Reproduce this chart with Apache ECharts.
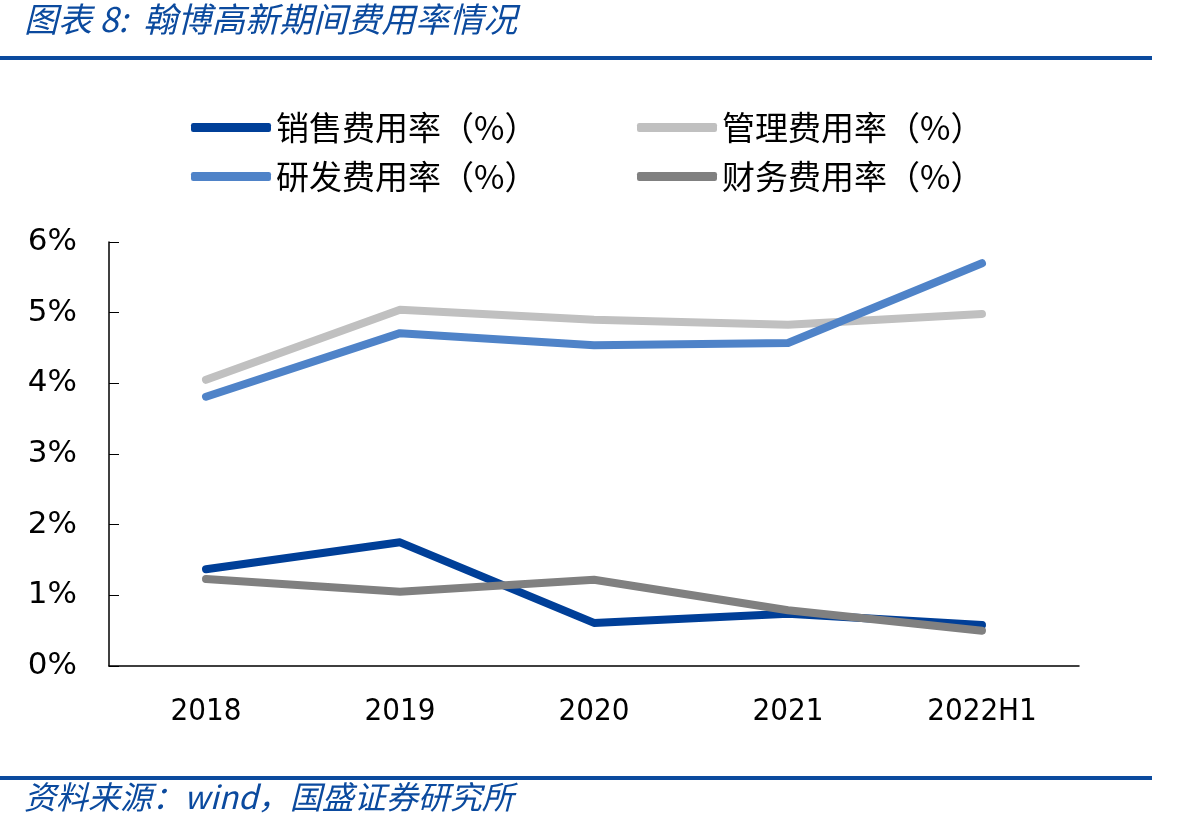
<!DOCTYPE html>
<html>
<head>
<meta charset="utf-8">
<script src="https://cdn.jsdelivr.net/npm/echarts@6/dist/echarts.min.js"></script>
<style>
  html, body { margin: 0; padding: 0; background: #fff; }
  #main { width: 1197px; height: 830px; }
</style>
</head>
<body>
<div id="main"></div>
<script>
var categories = ['2018', '2019', '2020', '2021', '2022H1'];
var salesRate = [1.37, 1.75, 0.61, 0.74, 0.58];
var adminRate = [4.05, 5.04, 4.90, 4.83, 4.98];
var rdRate = [3.81, 4.71, 4.54, 4.57, 5.70];
var financeRate = [1.23, 1.05, 1.22, 0.79, 0.50];
var yTicks = [0, 1, 2, 3, 4, 5, 6];

var names = ['销售费用率（%）', '管理费用率（%）', '研发费用率（%）', '财务费用率（%）'];
var colors = ['#003f98', '#c0c0c0', '#4f83c8', '#808080'];
var blue = '#0b4a9e';

var myChart = echarts.init(document.getElementById('main'));

function lineSeries(name, data, color) {
    return {
        name: name,
        type: 'line',
        data: data,
        symbol: 'none',
        smooth: false,
        lineStyle: { width: 8, color: color, cap: 'round', join: 'round' },
        itemStyle: { color: color }
    };
}

var legendText = { fontSize: 33, color: '#000', fontFamily: 'Noto Sans CJK SC' };

option = {
    backgroundColor: '#fff',
    animation: false,
    graphic: [
        {
            type: 'text', left: 24, top: 2,
            style: { text: '图表 8:  翰博高新期间费用率情况', fill: blue, fontSize: 34,
                     fontStyle: 'italic', fontFamily: 'Noto Sans CJK SC' }
        },
        { type: 'rect', left: 0, top: 56, shape: { width: 1152, height: 4 }, style: { fill: blue } },
        { type: 'rect', left: 0, top: 776, shape: { width: 1152, height: 4 }, style: { fill: blue } },
        {
            type: 'text', left: 24, top: 781,
            style: { text: '资料来源：wind，国盛证券研究所', fill: blue, fontSize: 32,
                     fontStyle: 'italic', fontFamily: 'Noto Sans CJK SC' }
        }
    ],
    legend: [
        {
            data: [names[0], names[2]], orient: 'vertical', left: 186, top: 106,
            icon: 'roundRect', itemWidth: 80, itemHeight: 9, itemGap: 16,
            textStyle: legendText
        },
        {
            data: [names[1], names[3]], orient: 'vertical', left: 632, top: 106,
            icon: 'roundRect', itemWidth: 80, itemHeight: 9, itemGap: 16,
            textStyle: legendText
        }
    ],
    grid: { left: 109, right: 118, top: 242, bottom: 164 },
    xAxis: {
        type: 'category',
        data: categories,
        boundaryGap: true,
        axisLine: { lineStyle: { color: '#000', width: 1.5 } },
        axisTick: { inside: true, length: 10, lineStyle: { color: '#000' } },
        axisLabel: { margin: 30, fontSize: 31, color: '#000', fontFamily: 'DejaVu Sans Condensed' }
    },
    yAxis: {
        type: 'value',
        min: yTicks[0],
        max: yTicks[yTicks.length - 1],
        interval: 1,
        axisLine: { show: true, lineStyle: { color: '#000', width: 1.5 } },
        axisTick: { show: true, inside: true, length: 10, lineStyle: { color: '#000' } },
        splitLine: { show: false },
        axisLabel: { margin: 32, fontSize: 31, color: '#000', fontFamily: 'DejaVu Sans',
                     formatter: '{value}%' }
    },
    series: [
        lineSeries(names[0], salesRate, colors[0]),
        lineSeries(names[1], adminRate, colors[1]),
        lineSeries(names[2], rdRate, colors[2]),
        lineSeries(names[3], financeRate, colors[3])
    ]
};

myChart.setOption(option);
</script>
</body>
</html>
